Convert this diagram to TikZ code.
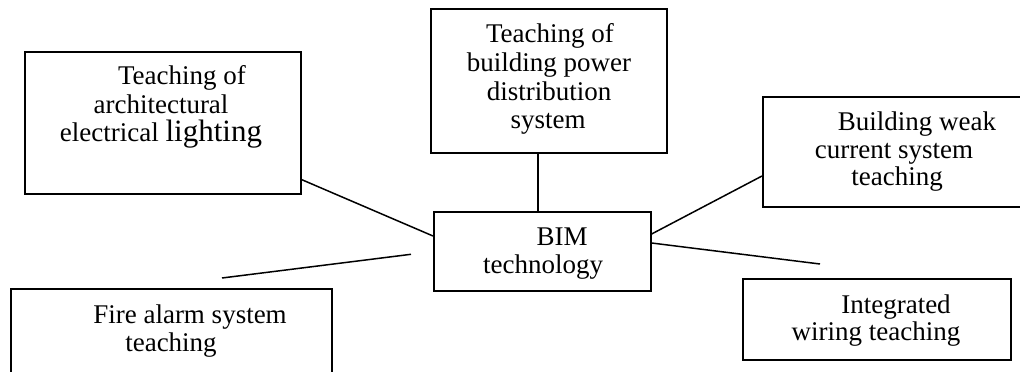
\documentclass[tikz,border=0pt]{standalone}
\usepackage{fontspec}
\setmainfont{Liberation Serif}
\usetikzlibrary{calc}
\begin{document}
\begin{tikzpicture}[x=1pt,y=-1pt,
  box/.style={draw=black, line width=1.6pt, rectangle, inner sep=0pt, anchor=north west},
  txt/.style={anchor=base, inner sep=0pt, font=\fontsize{27}{29}\selectfont},
  link/.style={draw=black, line width=1.5pt}]
\useasboundingbox (0,0) rectangle (1020,372);
\clip (0,0) rectangle (1020,372);

% boxes
\node[box, minimum width=276pt, minimum height=142pt] (A) at (24,51) {};
\node[box, minimum width=236pt, minimum height=144pt] (B) at (430,8) {};
\node[box, minimum width=217pt, minimum height=79pt]  (M) at (433,211) {};
\node[box, minimum width=262pt, minimum height=110pt] (C) at (762,96) {};
\node[box, minimum width=321pt, minimum height=84pt]  (E) at (10,288) {};
\node[box, minimum width=268pt, minimum height=81pt]  (F) at (742,278) {};

% labels
\node[txt] (a1) at (182,84)  {Teaching of};
\node[txt] (a2) at (161,113) {architectural};
\node[txt] (a3) at (161,141) {electrical {\fontsize{31}{31}\selectfont lighting}};

\node[txt] (b1) at (550,42)  {Teaching of};
\node[txt] (b2) at (549,71)  {building power};
\node[txt] (b3) at (549,100) {distribution};
\node[txt] (b4) at (548,128) {system};

\node[txt] (m1) at (562,245) {BIM};
\node[txt] (m2) at (543,273) {technology};

\node[txt] (c1) at (917,130) {Building weak};
\node[txt] (c2) at (894,158) {current system};
\node[txt] (c3) at (897,185) {teaching};

\node[txt] (e1) at (190,323) {Fire alarm system};
\node[txt] (e2) at (171,351) {teaching};

\node[txt] (f1) at (896,313) {Integrated};
\node[txt] (f2) at (876,340) {wiring teaching};

% connectors
\draw[link] ($(A.south east)+(0,-15)$) -- ($(M.north west)+(0,25)$);
\draw[link] ($(B.south)+(-11,0)$) coordinate (b0) -- (b0 |- M.north);
\draw[link] ($(M.north east)+(0,23)$) -- ($(C.north west)+(0,80)$);
\coordinate (fEnd) at ($(F.north west)+(78,-14)$);
\draw[link] ($(M.north east)+(0,32)$) -- (fEnd);
\coordinate (eNear) at ($(M.west)+(-22,3)$);
\coordinate (eFar)  at ($(E.north west)+(212,-10)$);
\draw[link] (eNear) -- (eFar);
\end{tikzpicture}
\end{document}
